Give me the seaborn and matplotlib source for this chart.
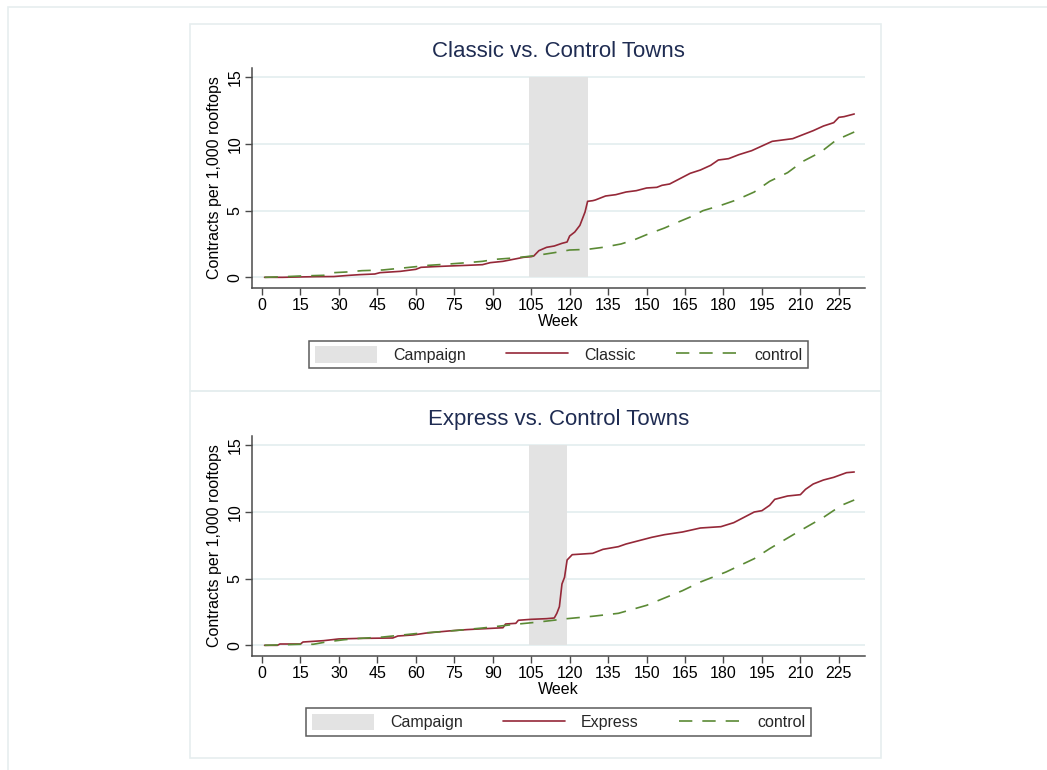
import matplotlib
matplotlib.use("Agg")
import matplotlib.pyplot as plt
from matplotlib.patches import Rectangle, Patch
from matplotlib.lines import Line2D
import seaborn as sns
import pandas as pd

# ---- data: cumulative contracts per 1,000 rooftops by week ----
classic_weeks = [1, 8, 15, 21, 28, 34, 38, 44, 46, 54, 60, 62, 67, 73, 80, 86, 89, 94, 98, 102,
                 105, 106, 108, 111, 114, 117, 119, 120, 122, 124, 126, 127, 129, 130, 134, 138,
                 142, 146, 150, 154, 156, 159, 163, 167, 171, 175, 178, 182, 186, 191, 195, 199,
                 203, 207, 211, 215, 219, 223, 225, 227, 231]
classic_vals = [0.0, 0.0, 0.03, 0.05, 0.06, 0.15, 0.2, 0.25, 0.35, 0.45, 0.6, 0.75, 0.8, 0.85, 0.9,
                0.95, 1.1, 1.2, 1.35, 1.5, 1.55, 1.6, 2.0, 2.25, 2.35, 2.55, 2.65, 3.1, 3.4, 3.9,
                4.9, 5.7, 5.75, 5.8, 6.1, 6.2, 6.4, 6.5, 6.7, 6.75, 6.9, 7.0, 7.4, 7.8, 8.05, 8.4,
                8.8, 8.9, 9.2, 9.5, 9.85, 10.2, 10.3, 10.4, 10.7, 11.0, 11.35, 11.6, 12.0, 12.05,
                12.25]

control1_weeks = [1, 9, 15, 24, 28, 33, 39, 47, 55, 60, 65, 73, 80, 86, 91, 98, 103, 105, 109, 114,
                  120, 127, 133, 140, 145, 150, 157, 163, 168, 172, 179, 185, 192, 198, 205, 211,
                  218, 224, 231]
control1_vals = [0.0, 0.05, 0.1, 0.15, 0.35, 0.4, 0.5, 0.55, 0.7, 0.8, 0.9, 1.0, 1.1, 1.2, 1.35,
                 1.45, 1.55, 1.6, 1.7, 1.85, 2.05, 2.1, 2.25, 2.5, 2.8, 3.2, 3.7, 4.2, 4.6, 5.0,
                 5.4, 5.8, 6.4, 7.2, 7.85, 8.7, 9.4, 10.3, 10.9]

express_weeks = [1, 6, 7, 15, 16, 24, 30, 38, 51, 53, 59, 64, 73, 80, 87, 94, 95, 99, 100, 105,
                 111, 114, 115, 116, 117, 118, 119, 121, 129, 133, 139, 142, 146, 152, 157, 164,
                 171, 179, 184, 188, 192, 195, 198, 200, 205, 210, 212, 215, 219, 223, 228, 231]
express_vals = [0.0, 0.0, 0.1, 0.1, 0.25, 0.35, 0.48, 0.52, 0.55, 0.7, 0.78, 0.92, 1.08, 1.18,
                1.25, 1.32, 1.6, 1.65, 1.88, 1.95, 2.0, 2.05, 2.4, 2.9, 4.6, 5.1, 6.4, 6.8, 6.9,
                7.2, 7.4, 7.6, 7.8, 8.1, 8.3, 8.5, 8.8, 8.9, 9.2, 9.6, 10.0, 10.1, 10.5, 10.95,
                11.2, 11.3, 11.7, 12.1, 12.4, 12.6, 12.95, 13.0]

control2_weeks = [1, 15, 20, 25, 32, 38, 47, 60, 68, 76, 86, 93, 99, 108, 119, 129, 139, 150, 164,
                  171, 181, 192, 198, 209, 219, 226, 231]
control2_vals = [0.0, 0.08, 0.08, 0.25, 0.42, 0.52, 0.62, 0.88, 1.0, 1.12, 1.3, 1.45, 1.58, 1.75,
                 2.0, 2.18, 2.4, 3.0, 4.1, 4.75, 5.5, 6.5, 7.25, 8.5, 9.6, 10.5, 10.9]

# campaign windows (weeks) and shaded height
classic_campaign = (104, 127.3)
express_campaign = (104, 119)
campaign_top = 15

x_ticks = list(range(0, 226, 15))
y_ticks = [0, 5, 10, 15]

titles = ["Classic vs. Control Towns", "Express vs. Control Towns"]
treat_labels = ["Classic", "Express"]

# ---- styling ----
sns.set_theme(style="white")
plt.rcParams["font.family"] = ["Liberation Sans", "DejaVu Sans"]

W, H = 1047, 770
RED = "#952838"
GREEN = "#5b8a35"
SHADE = "#e3e3e3"
GRID = "#e7f0f1"
FRAME = "#e6eeef"
AXC = "#4a4a4a"
TITLE_C = "#1f2c52"
FS = 11.5

fig = plt.figure(figsize=(W / 100, H / 100), dpi=100)
fig.patch.set_facecolor("white")


def fig_rect(x0, y0, x1, y1, **kw):
    """Rectangle given in pixel coordinates from the top-left corner."""
    return Rectangle((x0 / W, 1 - y1 / H), (x1 - x0) / W, (y1 - y0) / H,
                     transform=fig.transFigure, fill=False, **kw)


# outer frame and panel frames
fig.add_artist(fig_rect(8, 7, 1070, 800, edgecolor=FRAME, linewidth=1.2))
fig.add_artist(fig_rect(190, 24, 881, 391, edgecolor=FRAME, linewidth=1.2))
fig.add_artist(fig_rect(190, 391, 881, 758, edgecolor=FRAME, linewidth=1.2))

panels = [
    dict(top=68, bottom=288, legend_y=354.5, campaign=classic_campaign,
         tw=classic_weeks, tv=classic_vals, cw=control1_weeks, cv=control1_vals),
    dict(top=436, bottom=656, legend_y=722, campaign=express_campaign,
         tw=express_weeks, tv=express_vals, cw=control2_weeks, cv=control2_vals),
]

left_px, right_px = 252, 865

for i, p in enumerate(panels):
    ax = fig.add_axes([left_px / W, 1 - p["bottom"] / H,
                       (right_px - left_px) / W, (p["bottom"] - p["top"]) / H])
    ax.set_facecolor("white")

    # campaign shading from 0 up to the top gridline
    c0, c1 = p["campaign"]
    ax.fill_between([c0, c1], 0, campaign_top, color=SHADE, linewidth=0, zorder=1)

    treat = pd.DataFrame({"week": p["tw"], "rate": p["tv"]})
    ctrl = pd.DataFrame({"week": p["cw"], "rate": p["cv"]})
    sns.lineplot(data=treat, x="week", y="rate", ax=ax, color=RED, linewidth=1.2,
                 estimator=None, sort=False, zorder=3, legend=False)
    sns.lineplot(data=ctrl, x="week", y="rate", ax=ax, color=GREEN, linewidth=1.2,
                 estimator=None, sort=False, zorder=3, legend=False,
                 dashes=False)
    ax.lines[-1].set_dashes((8, 6))

    ax.set_xlim(-3.9, 235.2)
    ax.set_ylim(-0.8, 15.7)
    ax.set_xticks(x_ticks)
    ax.set_yticks(y_ticks)
    ax.set_yticklabels([str(v) for v in y_ticks], rotation=90, va="center")
    ax.grid(axis="y", color=GRID, linewidth=1.4, zorder=0)
    ax.grid(axis="x", visible=False)
    ax.set_axisbelow(True)

    for side in ["top", "right"]:
        ax.spines[side].set_visible(False)
    for side in ["left", "bottom"]:
        ax.spines[side].set_color(AXC)
        ax.spines[side].set_linewidth(1.1)

    ax.tick_params(axis="both", which="major", direction="out", length=5, width=1.0,
                   color=AXC, labelsize=FS, labelcolor="black", pad=2,
                   left=True, bottom=True)

    ax.set_xlabel("Week", fontsize=FS, color="black", labelpad=1)
    ax.set_ylabel("Contracts per 1,000 rooftops", fontsize=FS, color="black", labelpad=4)
    ax.set_title(titles[i], fontsize=16, color=TITLE_C, pad=8)

    handles = [
        Patch(facecolor=SHADE, edgecolor="none"),
        Line2D([], [], color=RED, linewidth=1.2),
        Line2D([], [], color=GREEN, linewidth=1.2, dashes=(8, 6)),
    ]
    leg = ax.legend(handles, ["Campaign", treat_labels[i], "control"],
                    loc="center", bbox_to_anchor=(558.5 / W, 1 - p["legend_y"] / H),
                    bbox_transform=fig.transFigure, ncol=3, fontsize=FS,
                    frameon=True, fancybox=False, shadow=False,
                    handlelength=3.9, handleheight=1.2, handletextpad=1.0,
                    columnspacing=2.5, borderpad=0.35, borderaxespad=0)
    leg.get_frame().set_edgecolor("#333333")
    leg.get_frame().set_linewidth(1.1)

fig.savefig("out.png", dpi=100, facecolor="white")
